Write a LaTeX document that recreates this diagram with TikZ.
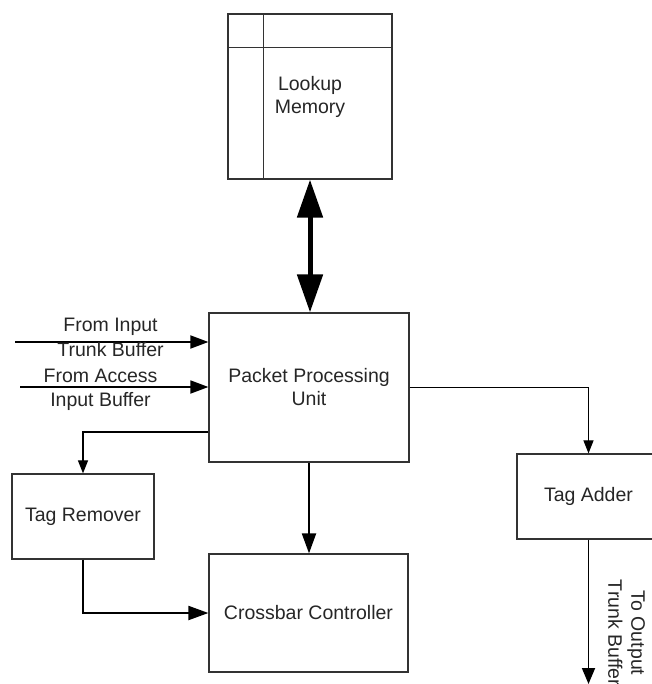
\documentclass[tikz,border=0pt]{standalone}
\usepackage{fontspec}
\setmainfont{Liberation Sans}
\usetikzlibrary{arrows.meta}
\begin{document}
\begin{tikzpicture}[x=1pt,y=-1pt,line width=1.1pt,>={Triangle[length=13pt,width=10pt]},
    blk/.style={draw=black!80,line width=1.2pt,inner sep=0pt,align=center,text=black!85,
        font=\fontsize{19.5}{23}\selectfont},
    lbl/.style={inner sep=0pt,align=center,text=black!85,font=\fontsize{19.5}{24.5}\selectfont},
    bus/.style={line width=2pt,-{Triangle[length=20pt,width=14pt]}}]
    \useasboundingbox(0,0)rectangle(651,684);
    \node[blk,minimum width=164pt,minimum height=165pt](mem)at(310,96.5){Lookup\\Memory};
    \draw[black!80,line width=1.2pt]([xshift=36pt]mem.north west)--([xshift=36pt]mem.south west);
    \draw[black!80,line width=1.2pt]([yshift=-34pt]mem.north west)--([yshift=-34pt]mem.north east);
    \node[blk,minimum width=200pt,minimum height=149pt](ppu)at(309,387.5){Packet Processing\\Unit};
    \node[blk,minimum width=142pt,minimum height=85pt](remover)at(83,516.5){Tag Remover};
    \node[blk,minimum width=199pt,minimum height=118pt](xbar)at(308.5,613){Crossbar Controller};
    \node[blk,minimum width=143pt,minimum height=85pt](adder)at(588.5,496.5){Tag Adder};
    \draw[line width=5pt,{Triangle[length=38pt,width=25pt]}-{Triangle[length=38pt,width=25pt]}]
        (mem.south)--(mem.south|-ppu.north);
    \coordinate(in1)at(15,342);
    \coordinate(in2)at(20,387);
    \draw[line width=1.8pt,-{Triangle[length=18pt,width=13pt]}](in1)--(ppu.west|-in1);
    \draw[line width=1.8pt,-{Triangle[length=18pt,width=13pt]}](in2)--(ppu.west|-in2);
    \node[lbl](in1txt)at(110.5,337.5){From Input\\Trunk Buffer};
    \node[lbl](in2txt)at(100.5,390){From Access\\Input Buffer};
    \draw[->]([yshift=-44.5pt]ppu.west)-|(remover.north);
    \draw[->](ppu.east)-|(adder.north);
    \draw[bus](ppu.south)--(ppu.south|-xbar.north);
    \draw[bus](remover.south)|-(xbar.west);
    \coordinate(out)at(588.5,684);
    \draw[line width=1.8pt,-{Triangle[length=16pt,width=13pt]}](adder.south)--(out);
    \node[lbl,rotate=-90,font=\fontsize{19.5}{23}\selectfont](outtxt)at(626.5,633){To Output\\Trunk Buffer};
\end{tikzpicture}
\end{document}
